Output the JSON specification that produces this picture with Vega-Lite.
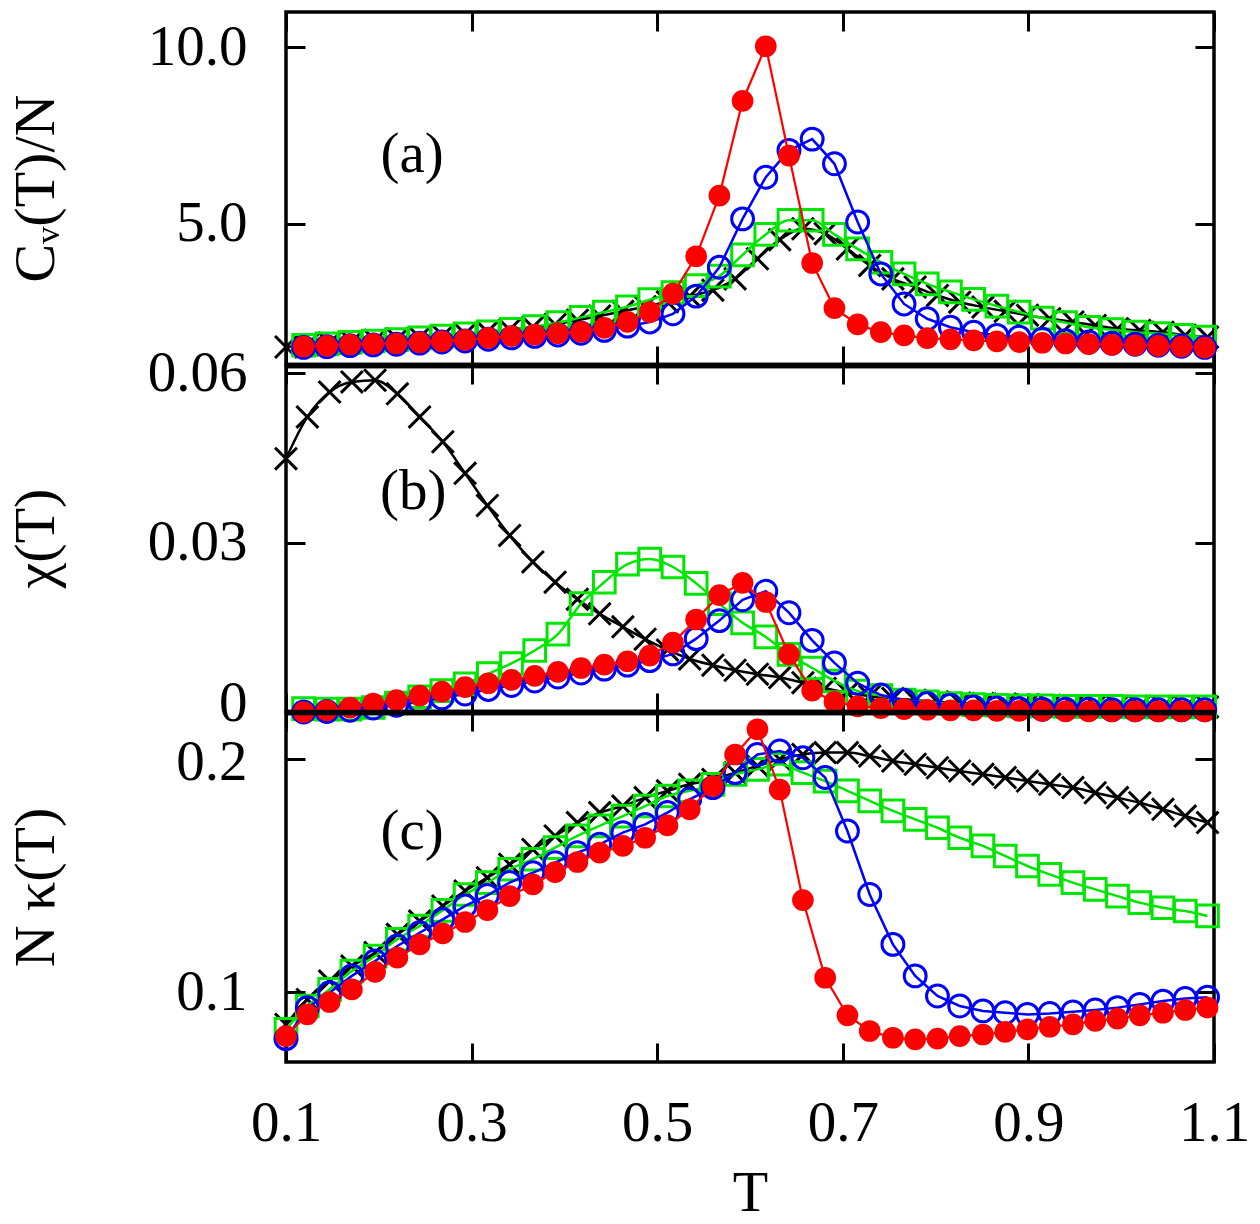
{
"$schema": "https://vega.github.io/schema/vega-lite/v6.json",
"background": "white",
"padding": {"left": 5, "top": 8, "right": 0, "bottom": 0},
"bounds": "flush",
"spacing": 0,
"config": {
  "font": "Liberation Serif",
  "view": {"stroke": "black", "strokeWidth": 3.5},
  "axis": {"domain": false, "grid": false, "ticks": true, "tickSize": -19, "tickWidth": 3, "tickColor": "black",
           "labelFont": "Liberation Serif", "labelFontSize": 57, "labelColor": "black", "labelFlush": false, "labelOverlap": false,
           "titleFont": "Liberation Serif", "titleFontSize": 58, "titleFontWeight": "normal", "titleColor": "black"},
  "axisBottom": {"labelPadding": 52},
  "axisLeft": {"labelPadding": 58}
},
"datasets": {
"ak": [{"T":0.100,"v":1.51},{"T":0.123,"v":1.57},{"T":0.147,"v":1.62},{"T":0.171,"v":1.66},{"T":0.196,"v":1.70},{"T":0.220,"v":1.74},{"T":0.244,"v":1.78},{"T":0.269,"v":1.83},{"T":0.293,"v":1.88},{"T":0.317,"v":1.94},{"T":0.341,"v":2.00},{"T":0.366,"v":2.07},{"T":0.390,"v":2.15},{"T":0.414,"v":2.27},{"T":0.438,"v":2.39},{"T":0.463,"v":2.52},{"T":0.487,"v":2.65},{"T":0.511,"v":2.79},{"T":0.535,"v":2.95},{"T":0.560,"v":3.12},{"T":0.584,"v":3.44},{"T":0.608,"v":4.01},{"T":0.632,"v":4.55},{"T":0.657,"v":4.86},{"T":0.681,"v":4.72},{"T":0.705,"v":4.29},{"T":0.729,"v":3.82},{"T":0.754,"v":3.44},{"T":0.778,"v":3.21},{"T":0.802,"v":2.97},{"T":0.826,"v":2.78},{"T":0.851,"v":2.64},{"T":0.875,"v":2.52},{"T":0.899,"v":2.41},{"T":0.923,"v":2.31},{"T":0.948,"v":2.22},{"T":0.972,"v":2.12},{"T":0.996,"v":2.03},{"T":1.020,"v":1.98},{"T":1.045,"v":1.93},{"T":1.069,"v":1.84},{"T":1.093,"v":1.79}],
"ag": [{"T":0.119,"v":1.56},{"T":0.144,"v":1.60},{"T":0.169,"v":1.64},{"T":0.194,"v":1.68},{"T":0.219,"v":1.72},{"T":0.244,"v":1.77},{"T":0.268,"v":1.82},{"T":0.293,"v":1.88},{"T":0.318,"v":1.94},{"T":0.343,"v":2.01},{"T":0.368,"v":2.09},{"T":0.393,"v":2.20},{"T":0.418,"v":2.35},{"T":0.443,"v":2.50},{"T":0.468,"v":2.65},{"T":0.492,"v":2.85},{"T":0.517,"v":3.05},{"T":0.542,"v":3.25},{"T":0.567,"v":3.52},{"T":0.592,"v":4.12},{"T":0.617,"v":4.70},{"T":0.642,"v":5.10},{"T":0.667,"v":5.10},{"T":0.691,"v":4.70},{"T":0.716,"v":4.29},{"T":0.741,"v":3.91},{"T":0.766,"v":3.58},{"T":0.791,"v":3.30},{"T":0.816,"v":3.07},{"T":0.841,"v":2.86},{"T":0.866,"v":2.67},{"T":0.890,"v":2.50},{"T":0.915,"v":2.33},{"T":0.940,"v":2.20},{"T":0.965,"v":2.07},{"T":0.990,"v":2.00},{"T":1.015,"v":1.93},{"T":1.040,"v":1.89},{"T":1.065,"v":1.84},{"T":1.090,"v":1.79}],
"ab": [{"T":0.119,"v":1.50},{"T":0.144,"v":1.52},{"T":0.169,"v":1.55},{"T":0.194,"v":1.57},{"T":0.219,"v":1.59},{"T":0.244,"v":1.62},{"T":0.268,"v":1.65},{"T":0.293,"v":1.68},{"T":0.318,"v":1.73},{"T":0.343,"v":1.77},{"T":0.368,"v":1.81},{"T":0.393,"v":1.85},{"T":0.418,"v":1.90},{"T":0.443,"v":1.98},{"T":0.468,"v":2.10},{"T":0.492,"v":2.22},{"T":0.517,"v":2.45},{"T":0.542,"v":2.95},{"T":0.567,"v":3.77},{"T":0.592,"v":5.14},{"T":0.617,"v":6.32},{"T":0.642,"v":7.08},{"T":0.667,"v":7.40},{"T":0.691,"v":6.70},{"T":0.716,"v":5.05},{"T":0.741,"v":3.58},{"T":0.766,"v":2.73},{"T":0.791,"v":2.31},{"T":0.816,"v":2.07},{"T":0.841,"v":1.93},{"T":0.866,"v":1.84},{"T":0.890,"v":1.79},{"T":0.915,"v":1.73},{"T":0.940,"v":1.69},{"T":0.965,"v":1.65},{"T":0.990,"v":1.62},{"T":1.015,"v":1.59},{"T":1.040,"v":1.56},{"T":1.065,"v":1.53},{"T":1.090,"v":1.50}],
"ar": [{"T":0.119,"v":1.52},{"T":0.144,"v":1.54},{"T":0.169,"v":1.58},{"T":0.194,"v":1.60},{"T":0.219,"v":1.61},{"T":0.244,"v":1.64},{"T":0.268,"v":1.67},{"T":0.293,"v":1.71},{"T":0.318,"v":1.77},{"T":0.343,"v":1.82},{"T":0.368,"v":1.86},{"T":0.393,"v":1.90},{"T":0.418,"v":1.94},{"T":0.443,"v":2.05},{"T":0.468,"v":2.22},{"T":0.492,"v":2.50},{"T":0.517,"v":3.02},{"T":0.542,"v":4.08},{"T":0.567,"v":5.80},{"T":0.592,"v":8.48},{"T":0.617,"v":10.03},{"T":0.642,"v":6.93},{"T":0.667,"v":3.89},{"T":0.691,"v":2.61},{"T":0.716,"v":2.15},{"T":0.741,"v":1.93},{"T":0.766,"v":1.84},{"T":0.791,"v":1.76},{"T":0.816,"v":1.73},{"T":0.841,"v":1.70},{"T":0.866,"v":1.67},{"T":0.890,"v":1.65},{"T":0.915,"v":1.63},{"T":0.940,"v":1.61},{"T":0.965,"v":1.59},{"T":0.990,"v":1.57},{"T":1.015,"v":1.56},{"T":1.040,"v":1.54},{"T":1.065,"v":1.52},{"T":1.090,"v":1.49}],
"bk": [{"T":0.100,"v":0.0449},{"T":0.123,"v":0.0523},{"T":0.147,"v":0.0567},{"T":0.171,"v":0.0585},{"T":0.196,"v":0.0588},{"T":0.220,"v":0.0564},{"T":0.244,"v":0.0523},{"T":0.269,"v":0.0479},{"T":0.293,"v":0.0423},{"T":0.317,"v":0.0366},{"T":0.341,"v":0.0313},{"T":0.366,"v":0.0266},{"T":0.390,"v":0.0230},{"T":0.414,"v":0.0200},{"T":0.438,"v":0.0174},{"T":0.463,"v":0.0151},{"T":0.487,"v":0.0129},{"T":0.511,"v":0.0110},{"T":0.535,"v":0.0094},{"T":0.560,"v":0.0083},{"T":0.584,"v":0.0074},{"T":0.608,"v":0.0067},{"T":0.632,"v":0.0061},{"T":0.657,"v":0.0052},{"T":0.681,"v":0.0042},{"T":0.705,"v":0.0034},{"T":0.729,"v":0.0028},{"T":0.754,"v":0.0024},{"T":0.778,"v":0.0021},{"T":0.802,"v":0.0018},{"T":0.826,"v":0.0016},{"T":0.851,"v":0.0015},{"T":0.875,"v":0.0014},{"T":0.899,"v":0.0013},{"T":0.923,"v":0.0012},{"T":0.948,"v":0.0011},{"T":0.972,"v":0.0011},{"T":0.996,"v":0.0010},{"T":1.020,"v":0.0010},{"T":1.045,"v":0.0009},{"T":1.069,"v":0.0009},{"T":1.093,"v":0.0009}],
"bg": [{"T":0.119,"v":0.0006},{"T":0.144,"v":0.0005},{"T":0.169,"v":0.0005},{"T":0.194,"v":0.0008},{"T":0.219,"v":0.0016},{"T":0.244,"v":0.0027},{"T":0.268,"v":0.0038},{"T":0.293,"v":0.0050},{"T":0.318,"v":0.0068},{"T":0.343,"v":0.0086},{"T":0.368,"v":0.0109},{"T":0.393,"v":0.0138},{"T":0.418,"v":0.0192},{"T":0.443,"v":0.0230},{"T":0.468,"v":0.0262},{"T":0.492,"v":0.0271},{"T":0.517,"v":0.0257},{"T":0.542,"v":0.0228},{"T":0.567,"v":0.0192},{"T":0.592,"v":0.0158},{"T":0.617,"v":0.0133},{"T":0.642,"v":0.0102},{"T":0.667,"v":0.0078},{"T":0.691,"v":0.0055},{"T":0.716,"v":0.0037},{"T":0.741,"v":0.0029},{"T":0.766,"v":0.0021},{"T":0.791,"v":0.0018},{"T":0.816,"v":0.0015},{"T":0.841,"v":0.0013},{"T":0.866,"v":0.0012},{"T":0.890,"v":0.0011},{"T":0.915,"v":0.0011},{"T":0.940,"v":0.0010},{"T":0.965,"v":0.0010},{"T":0.990,"v":0.0010},{"T":1.015,"v":0.0009},{"T":1.040,"v":0.0009},{"T":1.065,"v":0.0009},{"T":1.090,"v":0.0009}],
"bb": [{"T":0.119,"v":0.0000},{"T":0.144,"v":0.0001},{"T":0.169,"v":0.0003},{"T":0.194,"v":0.0007},{"T":0.219,"v":0.0012},{"T":0.244,"v":0.0018},{"T":0.268,"v":0.0025},{"T":0.293,"v":0.0032},{"T":0.318,"v":0.0040},{"T":0.343,"v":0.0047},{"T":0.368,"v":0.0055},{"T":0.393,"v":0.0062},{"T":0.418,"v":0.0069},{"T":0.443,"v":0.0076},{"T":0.468,"v":0.0083},{"T":0.492,"v":0.0091},{"T":0.517,"v":0.0103},{"T":0.542,"v":0.0130},{"T":0.567,"v":0.0162},{"T":0.592,"v":0.0199},{"T":0.617,"v":0.0214},{"T":0.642,"v":0.0176},{"T":0.667,"v":0.0127},{"T":0.691,"v":0.0087},{"T":0.716,"v":0.0051},{"T":0.741,"v":0.0030},{"T":0.766,"v":0.0021},{"T":0.791,"v":0.0015},{"T":0.816,"v":0.0012},{"T":0.841,"v":0.0009},{"T":0.866,"v":0.0007},{"T":0.890,"v":0.0006},{"T":0.915,"v":0.0005},{"T":0.940,"v":0.0005},{"T":0.965,"v":0.0005},{"T":0.990,"v":0.0004},{"T":1.015,"v":0.0004},{"T":1.040,"v":0.0004},{"T":1.065,"v":0.0004},{"T":1.090,"v":0.0004}],
"br": [{"T":0.119,"v":0.0000},{"T":0.144,"v":0.0003},{"T":0.169,"v":0.0008},{"T":0.194,"v":0.0015},{"T":0.219,"v":0.0021},{"T":0.244,"v":0.0029},{"T":0.268,"v":0.0036},{"T":0.293,"v":0.0044},{"T":0.318,"v":0.0051},{"T":0.343,"v":0.0057},{"T":0.368,"v":0.0064},{"T":0.393,"v":0.0071},{"T":0.418,"v":0.0078},{"T":0.443,"v":0.0084},{"T":0.468,"v":0.0090},{"T":0.492,"v":0.0100},{"T":0.517,"v":0.0123},{"T":0.542,"v":0.0164},{"T":0.567,"v":0.0207},{"T":0.592,"v":0.0229},{"T":0.617,"v":0.0195},{"T":0.642,"v":0.0102},{"T":0.667,"v":0.0038},{"T":0.691,"v":0.0018},{"T":0.716,"v":0.0010},{"T":0.741,"v":0.0007},{"T":0.766,"v":0.0005},{"T":0.791,"v":0.0004},{"T":0.816,"v":0.0003},{"T":0.841,"v":0.0003},{"T":0.866,"v":0.0002},{"T":0.890,"v":0.0002},{"T":0.915,"v":0.0002},{"T":0.940,"v":0.0001},{"T":0.965,"v":0.0001},{"T":0.990,"v":0.0001},{"T":1.015,"v":0.0001},{"T":1.040,"v":0.0001},{"T":1.065,"v":0.0001},{"T":1.090,"v":0.0001}],
"ck": [{"T":0.100,"v":0.0861},{"T":0.123,"v":0.0968},{"T":0.147,"v":0.1047},{"T":0.171,"v":0.1111},{"T":0.196,"v":0.1169},{"T":0.220,"v":0.1247},{"T":0.244,"v":0.1304},{"T":0.269,"v":0.1369},{"T":0.293,"v":0.1433},{"T":0.317,"v":0.1490},{"T":0.341,"v":0.1547},{"T":0.366,"v":0.1611},{"T":0.390,"v":0.1669},{"T":0.414,"v":0.1726},{"T":0.438,"v":0.1769},{"T":0.463,"v":0.1797},{"T":0.487,"v":0.1833},{"T":0.511,"v":0.1862},{"T":0.535,"v":0.1890},{"T":0.560,"v":0.1911},{"T":0.584,"v":0.1940},{"T":0.608,"v":0.1969},{"T":0.632,"v":0.1997},{"T":0.657,"v":0.2018},{"T":0.681,"v":0.2026},{"T":0.705,"v":0.2026},{"T":0.729,"v":0.2011},{"T":0.754,"v":0.1990},{"T":0.778,"v":0.1976},{"T":0.802,"v":0.1961},{"T":0.826,"v":0.1947},{"T":0.851,"v":0.1933},{"T":0.875,"v":0.1919},{"T":0.899,"v":0.1904},{"T":0.923,"v":0.1890},{"T":0.948,"v":0.1876},{"T":0.972,"v":0.1854},{"T":0.996,"v":0.1833},{"T":1.020,"v":0.1811},{"T":1.045,"v":0.1783},{"T":1.069,"v":0.1754},{"T":1.093,"v":0.1726}],
"cg": [{"T":0.100,"v":0.0840},{"T":0.123,"v":0.0940},{"T":0.147,"v":0.1011},{"T":0.171,"v":0.1090},{"T":0.196,"v":0.1154},{"T":0.220,"v":0.1226},{"T":0.244,"v":0.1283},{"T":0.269,"v":0.1350},{"T":0.293,"v":0.1418},{"T":0.317,"v":0.1469},{"T":0.341,"v":0.1526},{"T":0.366,"v":0.1569},{"T":0.390,"v":0.1619},{"T":0.414,"v":0.1669},{"T":0.438,"v":0.1712},{"T":0.463,"v":0.1754},{"T":0.487,"v":0.1797},{"T":0.511,"v":0.1840},{"T":0.535,"v":0.1862},{"T":0.560,"v":0.1890},{"T":0.584,"v":0.1933},{"T":0.608,"v":0.1954},{"T":0.632,"v":0.1976},{"T":0.657,"v":0.1940},{"T":0.681,"v":0.1904},{"T":0.705,"v":0.1862},{"T":0.729,"v":0.1819},{"T":0.754,"v":0.1776},{"T":0.778,"v":0.1740},{"T":0.802,"v":0.1704},{"T":0.826,"v":0.1661},{"T":0.851,"v":0.1626},{"T":0.875,"v":0.1583},{"T":0.899,"v":0.1540},{"T":0.923,"v":0.1504},{"T":0.948,"v":0.1469},{"T":0.972,"v":0.1440},{"T":0.996,"v":0.1411},{"T":1.020,"v":0.1383},{"T":1.045,"v":0.1361},{"T":1.069,"v":0.1347},{"T":1.093,"v":0.1326}],
"cb": [{"T":0.100,"v":0.0800},{"T":0.123,"v":0.0933},{"T":0.147,"v":0.0997},{"T":0.171,"v":0.1069},{"T":0.196,"v":0.1133},{"T":0.220,"v":0.1197},{"T":0.244,"v":0.1254},{"T":0.269,"v":0.1311},{"T":0.293,"v":0.1369},{"T":0.317,"v":0.1414},{"T":0.341,"v":0.1469},{"T":0.366,"v":0.1511},{"T":0.390,"v":0.1554},{"T":0.414,"v":0.1597},{"T":0.438,"v":0.1633},{"T":0.463,"v":0.1683},{"T":0.487,"v":0.1718},{"T":0.511,"v":0.1769},{"T":0.535,"v":0.1826},{"T":0.560,"v":0.1876},{"T":0.584,"v":0.1940},{"T":0.608,"v":0.2018},{"T":0.632,"v":0.2033},{"T":0.657,"v":0.2004},{"T":0.681,"v":0.1919},{"T":0.705,"v":0.1690},{"T":0.729,"v":0.1418},{"T":0.754,"v":0.1204},{"T":0.778,"v":0.1069},{"T":0.802,"v":0.0983},{"T":0.826,"v":0.0940},{"T":0.851,"v":0.0919},{"T":0.875,"v":0.0911},{"T":0.899,"v":0.0904},{"T":0.923,"v":0.0908},{"T":0.948,"v":0.0915},{"T":0.972,"v":0.0923},{"T":0.996,"v":0.0933},{"T":1.020,"v":0.0947},{"T":1.045,"v":0.0961},{"T":1.069,"v":0.0972},{"T":1.093,"v":0.0978}],
"cr": [{"T":0.100,"v":0.0811},{"T":0.123,"v":0.0904},{"T":0.147,"v":0.0957},{"T":0.171,"v":0.1011},{"T":0.196,"v":0.1086},{"T":0.220,"v":0.1147},{"T":0.244,"v":0.1204},{"T":0.269,"v":0.1251},{"T":0.293,"v":0.1300},{"T":0.317,"v":0.1351},{"T":0.341,"v":0.1411},{"T":0.366,"v":0.1461},{"T":0.390,"v":0.1514},{"T":0.414,"v":0.1557},{"T":0.438,"v":0.1597},{"T":0.463,"v":0.1626},{"T":0.487,"v":0.1661},{"T":0.511,"v":0.1714},{"T":0.535,"v":0.1783},{"T":0.560,"v":0.1883},{"T":0.584,"v":0.2018},{"T":0.608,"v":0.2126},{"T":0.632,"v":0.1868},{"T":0.657,"v":0.1394},{"T":0.681,"v":0.1061},{"T":0.705,"v":0.0900},{"T":0.729,"v":0.0833},{"T":0.754,"v":0.0804},{"T":0.778,"v":0.0797},{"T":0.802,"v":0.0800},{"T":0.826,"v":0.0811},{"T":0.851,"v":0.0818},{"T":0.875,"v":0.0829},{"T":0.899,"v":0.0840},{"T":0.923,"v":0.0851},{"T":0.948,"v":0.0861},{"T":0.972,"v":0.0876},{"T":0.996,"v":0.0886},{"T":1.020,"v":0.0900},{"T":1.045,"v":0.0911},{"T":1.069,"v":0.0923},{"T":1.093,"v":0.0933}]
},
"vconcat": [
{
 "width": 928, "height": 353,
 "layer": [
  {"data": {"name": "ak"},
   "mark": {"type": "line", "color": "black", "strokeWidth": 2.5, "interpolate": "monotone",
            "point": {"shape": "M-1,-1L1,1M-1,1L1,-1", "filled": false, "size": 480, "color": "black", "strokeWidth": 3}},
   "encoding": {
    "x": {"field": "T", "type": "quantitative", "scale": {"domain": [0.1, 1.1], "nice": false, "zero": false},
          "axis": {"orient": "bottom", "values": [0.1, 0.3, 0.5, 0.7, 0.9, 1.1], "labels": false, "title": null, "domain": true, "domainWidth": 5.5, "domainColor": "black"}},
    "y": {"field": "v", "type": "quantitative", "scale": {"domain": [1, 11], "nice": false, "zero": false},
          "axis": {"orient": "left", "values": [5, 10], "format": ".1f", "title": "Cᵥ(T)/N", "titleX": -250, "titleY": 176, "titleAngle": 270, "titleBaseline": "middle", "titleAlign": "center"}}}},
  {"data": {"name": "ag"},
   "mark": {"type": "line", "color": "#00e600", "strokeWidth": 2.5, "interpolate": "monotone",
            "point": {"shape": "square", "filled": false, "size": 470, "color": "#00e600", "strokeWidth": 3}},
   "encoding": {
    "x": {"field": "T", "type": "quantitative", "scale": {"domain": [0.1, 1.1], "nice": false, "zero": false}, "axis": null},
    "y": {"field": "v", "type": "quantitative", "scale": {"domain": [1, 11], "nice": false, "zero": false}, "axis": null}}},
  {"data": {"name": "ab"},
   "mark": {"type": "line", "color": "#0000ff", "strokeWidth": 2.5,
            "point": {"shape": "circle", "filled": false, "size": 480, "color": "#0000ff", "strokeWidth": 3}},
   "encoding": {
    "x": {"field": "T", "type": "quantitative", "scale": {"domain": [0.1, 1.1], "nice": false, "zero": false}, "axis": null},
    "y": {"field": "v", "type": "quantitative", "scale": {"domain": [1, 11], "nice": false, "zero": false}, "axis": null}}},
  {"data": {"name": "ar"},
   "mark": {"type": "line", "color": "#ff0000", "strokeWidth": 2.2,
            "point": {"shape": "circle", "filled": true, "size": 470, "color": "#ff0000", "opacity": 1}},
   "encoding": {
    "x": {"field": "T", "type": "quantitative", "scale": {"domain": [0.1, 1.1], "nice": false, "zero": false},
          "axis": {"orient": "top", "values": [0.1, 0.3, 0.5, 0.7, 0.9, 1.1], "labels": false, "title": null}},
    "y": {"field": "v", "type": "quantitative", "scale": {"domain": [1, 11], "nice": false, "zero": false},
          "axis": {"orient": "right", "values": [5, 10], "labels": false, "title": null}}}},
  {"data": {"values": [{"T": 0.236, "v": 6.95, "lab": "(a)"}]},
   "mark": {"type": "text", "font": "Liberation Serif", "fontSize": 57, "color": "black"},
   "encoding": {
    "x": {"field": "T", "type": "quantitative", "scale": {"domain": [0.1, 1.1], "nice": false, "zero": false}, "axis": null},
    "y": {"field": "v", "type": "quantitative", "scale": {"domain": [1, 11], "nice": false, "zero": false}, "axis": null},
    "text": {"field": "lab"}}}
 ],
 "resolve": {"axis": {"x": "independent", "y": "independent"}}
},
{
 "width": 928, "height": 347,
 "layer": [
  {"data": {"name": "bk"},
   "mark": {"type": "line", "color": "black", "strokeWidth": 2.5, "interpolate": "monotone",
            "point": {"shape": "M-1,-1L1,1M-1,1L1,-1", "filled": false, "size": 480, "color": "black", "strokeWidth": 3}},
   "encoding": {
    "x": {"field": "T", "type": "quantitative", "scale": {"domain": [0.1, 1.1], "nice": false, "zero": false},
          "axis": {"orient": "bottom", "values": [0.1, 0.3, 0.5, 0.7, 0.9, 1.1], "labels": false, "title": null, "domain": true, "domainWidth": 5.5, "domainColor": "black"}},
    "y": {"field": "v", "type": "quantitative", "scale": {"domain": [0, 0.0615], "nice": false, "zero": false},
          "axis": {"orient": "left", "values": [0, 0.03, 0.06], "labelExpr": "datum.value == 0 ? '0' : format(datum.value, '.2f')",
                   "labelOffset": {"condition": {"test": "datum.value == 0", "value": -9}, "value": 0},
                   "title": "χ(T)", "titleX": -250, "titleY": 173, "titleAngle": 270, "titleBaseline": "middle", "titleAlign": "center"}}}},
  {"data": {"name": "bg"},
   "mark": {"type": "line", "color": "#00e600", "strokeWidth": 2.5, "interpolate": "monotone",
            "point": {"shape": "square", "filled": false, "size": 470, "color": "#00e600", "strokeWidth": 3}},
   "encoding": {
    "x": {"field": "T", "type": "quantitative", "scale": {"domain": [0.1, 1.1], "nice": false, "zero": false}, "axis": null},
    "y": {"field": "v", "type": "quantitative", "scale": {"domain": [0, 0.0615], "nice": false, "zero": false}, "axis": null}}},
  {"data": {"name": "bb"},
   "mark": {"type": "line", "color": "#0000ff", "strokeWidth": 2.5,
            "point": {"shape": "circle", "filled": false, "size": 480, "color": "#0000ff", "strokeWidth": 3}},
   "encoding": {
    "x": {"field": "T", "type": "quantitative", "scale": {"domain": [0.1, 1.1], "nice": false, "zero": false}, "axis": null},
    "y": {"field": "v", "type": "quantitative", "scale": {"domain": [0, 0.0615], "nice": false, "zero": false}, "axis": null}}},
  {"data": {"name": "br"},
   "mark": {"type": "line", "color": "#ff0000", "strokeWidth": 2.2,
            "point": {"shape": "circle", "filled": true, "size": 470, "color": "#ff0000", "opacity": 1}},
   "encoding": {
    "x": {"field": "T", "type": "quantitative", "scale": {"domain": [0.1, 1.1], "nice": false, "zero": false},
          "axis": {"orient": "top", "values": [0.1, 0.3, 0.5, 0.7, 0.9, 1.1], "labels": false, "title": null, "domain": true, "domainWidth": 5.5, "domainColor": "black"}},
    "y": {"field": "v", "type": "quantitative", "scale": {"domain": [0, 0.0615], "nice": false, "zero": false},
          "axis": {"orient": "right", "values": [0, 0.03, 0.06], "labels": false, "title": null}}}},
  {"data": {"values": [{"T": 0.237, "v": 0.0390, "lab": "(b)"}]},
   "mark": {"type": "text", "font": "Liberation Serif", "fontSize": 57, "color": "black"},
   "encoding": {
    "x": {"field": "T", "type": "quantitative", "scale": {"domain": [0.1, 1.1], "nice": false, "zero": false}, "axis": null},
    "y": {"field": "v", "type": "quantitative", "scale": {"domain": [0, 0.0615], "nice": false, "zero": false}, "axis": null},
    "text": {"field": "lab"}}}
 ],
 "resolve": {"axis": {"x": "independent", "y": "independent"}}
},
{
 "width": 928, "height": 350,
 "layer": [
  {"data": {"name": "ck"},
   "mark": {"type": "line", "color": "black", "strokeWidth": 2.5, "interpolate": "monotone",
            "point": {"shape": "M-1,-1L1,1M-1,1L1,-1", "filled": false, "size": 480, "color": "black", "strokeWidth": 3}},
   "encoding": {
    "x": {"field": "T", "type": "quantitative", "scale": {"domain": [0.1, 1.1], "nice": false, "zero": false},
          "axis": {"orient": "bottom", "values": [0.1, 0.3, 0.5, 0.7, 0.9, 1.1], "format": ".1f", "title": "T", "titleY": 148, "titleBaseline": "alphabetic"}},
    "y": {"field": "v", "type": "quantitative", "scale": {"domain": [0.07, 0.22], "nice": false, "zero": false},
          "axis": {"orient": "left", "values": [0.1, 0.2], "format": ".1f",
                   "labelOffset": {"condition": {"test": "datum.value == 0.2", "value": 4}, "value": 0},
                   "title": "N κ(T)", "titleX": -250, "titleY": 175, "titleAngle": 270, "titleBaseline": "middle", "titleAlign": "center"}}}},
  {"data": {"name": "cg"},
   "mark": {"type": "line", "color": "#00e600", "strokeWidth": 2.5, "interpolate": "monotone",
            "point": {"shape": "square", "filled": false, "size": 470, "color": "#00e600", "strokeWidth": 3}},
   "encoding": {
    "x": {"field": "T", "type": "quantitative", "scale": {"domain": [0.1, 1.1], "nice": false, "zero": false}, "axis": null},
    "y": {"field": "v", "type": "quantitative", "scale": {"domain": [0.07, 0.22], "nice": false, "zero": false}, "axis": null}}},
  {"data": {"name": "cb"},
   "mark": {"type": "line", "color": "#0000ff", "strokeWidth": 2.5,
            "point": {"shape": "circle", "filled": false, "size": 480, "color": "#0000ff", "strokeWidth": 3}},
   "encoding": {
    "x": {"field": "T", "type": "quantitative", "scale": {"domain": [0.1, 1.1], "nice": false, "zero": false}, "axis": null},
    "y": {"field": "v", "type": "quantitative", "scale": {"domain": [0.07, 0.22], "nice": false, "zero": false}, "axis": null}}},
  {"data": {"name": "cr"},
   "mark": {"type": "line", "color": "#ff0000", "strokeWidth": 2.2,
            "point": {"shape": "circle", "filled": true, "size": 470, "color": "#ff0000", "opacity": 1}},
   "encoding": {
    "x": {"field": "T", "type": "quantitative", "scale": {"domain": [0.1, 1.1], "nice": false, "zero": false},
          "axis": {"orient": "top", "values": [0.1, 0.3, 0.5, 0.7, 0.9, 1.1], "labels": false, "title": null, "domain": true, "domainWidth": 5.5, "domainColor": "black"}},
    "y": {"field": "v", "type": "quantitative", "scale": {"domain": [0.07, 0.22], "nice": false, "zero": false},
          "axis": {"orient": "right", "values": [0.1, 0.2], "labels": false, "title": null}}}},
  {"data": {"values": [{"T": 0.236, "v": 0.1685, "lab": "(c)"}]},
   "mark": {"type": "text", "font": "Liberation Serif", "fontSize": 57, "color": "black"},
   "encoding": {
    "x": {"field": "T", "type": "quantitative", "scale": {"domain": [0.1, 1.1], "nice": false, "zero": false}, "axis": null},
    "y": {"field": "v", "type": "quantitative", "scale": {"domain": [0.07, 0.22], "nice": false, "zero": false}, "axis": null},
    "text": {"field": "lab"}}}
 ],
 "resolve": {"axis": {"x": "independent", "y": "independent"}}
}
]
}
